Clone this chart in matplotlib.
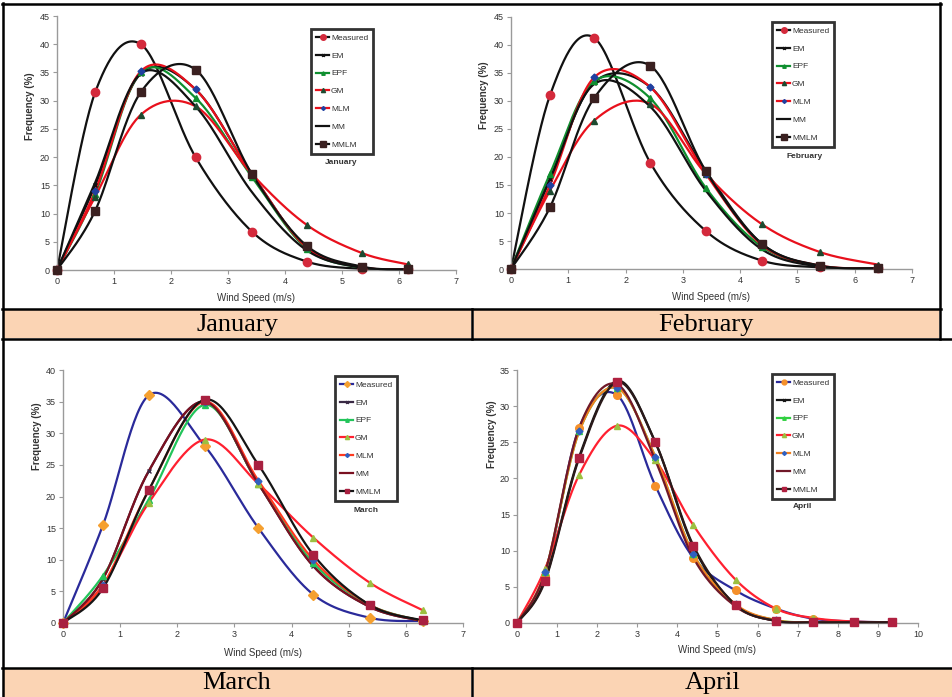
import numpy as np
import matplotlib
matplotlib.use('Agg')
import matplotlib.pyplot as plt
from matplotlib.patches import Rectangle
from matplotlib.lines import Line2D

series_names = ['Measured', 'EM', 'EPF', 'GM', 'MLM', 'MM', 'MMLM']

# ---------------- January ----------------
jan_speed = [0, 0.67, 1.47, 2.43, 3.42, 4.38, 5.35, 6.15]
jan_measured = [0, 31.5, 40.0, 20.0, 6.8, 1.5, 0.2, 0.1]
jan_em = [0, 15.0, 34.8, 32.0, 17.0, 4.0, 0.5, 0.1]
jan_epf = [0, 13.5, 35.0, 30.5, 16.5, 3.8, 0.4, 0.1]
jan_gm = [0, 13.0, 27.5, 29.0, 17.0, 8.0, 3.0, 1.0]
jan_mlm = [0, 14.0, 35.2, 32.0, 17.0, 4.0, 0.5, 0.1]
jan_mm = [0, 15.5, 34.8, 29.0, 13.8, 3.5, 0.4, 0.1]
jan_mmlm = [0, 10.5, 31.5, 35.5, 17.0, 4.3, 0.6, 0.1]

# ---------------- February ----------------
feb_speed = [0, 0.68, 1.45, 2.43, 3.4, 4.38, 5.4, 6.4]
feb_measured = [0, 31.0, 41.3, 19.0, 6.8, 1.5, 0.3, 0.1]
feb_em = [0, 16.0, 33.3, 32.5, 17.5, 4.5, 0.5, 0.1]
feb_epf = [0, 17.0, 33.5, 30.5, 14.5, 4.0, 0.5, 0.1]
feb_gm = [0, 14.0, 26.5, 29.5, 17.0, 8.0, 3.0, 0.8]
feb_mlm = [0, 15.0, 34.2, 32.5, 17.0, 4.3, 0.6, 0.1]
feb_mm = [0, 16.0, 33.0, 29.0, 14.0, 3.5, 0.4, 0.1]
feb_mmlm = [0, 11.0, 30.5, 36.3, 17.5, 4.5, 0.6, 0.1]

# ---------------- March ----------------
mar_speed = [0, 0.7, 1.5, 2.48, 3.42, 4.38, 5.38, 6.3]
mar_measured = [0, 15.5, 36.0, 28.0, 15.0, 4.5, 0.8, 0.3]
mar_em = [0, 7.0, 24.0, 35.0, 22.0, 9.0, 2.5, 0.3]
mar_epf = [0, 7.5, 19.5, 34.5, 22.0, 9.5, 2.8, 0.3]
mar_gm = [0, 6.0, 19.0, 29.0, 22.0, 13.5, 6.3, 2.0]
mar_mlm = [0, 6.0, 21.0, 35.0, 22.5, 10.0, 2.8, 0.3]
mar_mm = [0, 7.0, 24.0, 35.0, 22.0, 9.0, 2.5, 0.3]
mar_mmlm = [0, 5.5, 21.0, 35.3, 25.0, 10.8, 2.8, 0.4]

# ---------------- April ----------------
apr_speed = [0, 0.7, 1.55, 2.5, 3.45, 4.4, 5.45, 6.45, 7.38, 8.4, 9.35]
apr_measured = [0, 6.5, 27.0, 31.5, 19.0, 9.0, 4.5, 2.0, 0.6, 0.2, 0.1]
apr_em = [0, 6.0, 23.0, 33.5, 25.0, 10.5, 2.5, 0.3, 0.1, 0.1, 0.1]
apr_epf = [0, 7.0, 26.5, 32.5, 23.0, 9.5, 2.5, 0.4, 0.1, 0.1, 0.1]
apr_gm = [0, 7.5, 20.5, 27.3, 22.5, 13.5, 6.0, 2.0, 0.7, 0.2, 0.1]
apr_mlm = [0, 7.0, 26.5, 32.5, 23.0, 9.5, 2.6, 0.4, 0.1, 0.1, 0.1]
apr_mm = [0, 7.0, 27.0, 33.0, 22.5, 9.0, 2.3, 0.3, 0.1, 0.1, 0.1]
apr_mmlm = [0, 5.8, 22.8, 33.3, 25.0, 10.7, 2.5, 0.3, 0.1, 0.1, 0.1]

month_labels = ['January', 'February', 'March', 'April']

W, H = 953, 697


def fx(px):
    return px / W


def fy(py):
    return 1 - py / H


def smooth(x, y, n=30):
    P = np.column_stack([np.asarray(x, float), np.asarray(y, float)])
    xs, ys = [], []
    m = len(P)
    for i in range(m - 1):
        p0 = P[i - 1] if i > 0 else P[i]
        p1 = P[i]
        p2 = P[i + 1]
        p3 = P[i + 2] if i + 2 < m else P[i + 1]
        c1 = p1 + (p2 - p0) / 6.0
        c2 = p2 - (p3 - p1) / 6.0
        t = np.linspace(0, 1, n, endpoint=(i == m - 2))[:, None]
        B = ((1 - t) ** 3) * p1 + 3 * ((1 - t) ** 2) * t * c1 + 3 * (1 - t) * t ** 2 * c2 + t ** 3 * p2
        xs.append(B[:, 0])
        ys.append(B[:, 1])
    return np.concatenate(xs), np.concatenate(ys)


# style: (line color, marker, marker face, marker size)
style_jf = [
    ('#111111', 'o', '#d42a3c', 6),
    ('#111111', 'x', '#111111', 3.5),
    ('#0f8f2f', '^', '#0f8f2f', 4.5),
    ('#e8101c', '^', '#1d4a30', 5),
    ('#e8101c', 'D', '#2040a0', 3.5),
    ('#111111', None, None, 0),
    ('#111111', 's', '#3a2020', 6),
]
style_ma = [
    ('#2a2a9a', 'D', '#f5a030', 5),
    ('#3a2a45', 'x', '#3a2a45', 3.5),
    ('#22c45a', '^', '#22c45a', 4.5),
    ('#ff2030', '^', '#9cc040', 5),
    ('#ff3a20', 'D', '#3060c0', 3.5),
    ('#7a1020', None, None, 0),
    ('#151515', 's', '#a82040', 5.5),
]
style_ap = [
    ('#2a2a9a', 'o', '#f5902a', 5.5),
    ('#151515', 'x', '#151515', 3.5),
    ('#30d040', '^', '#30d040', 4.5),
    ('#ff2030', '^', '#9cc040', 5),
    ('#f08020', 'D', '#3060c0', 3.5),
    ('#701828', None, None, 0),
    ('#2a1a1a', 's', '#b02040', 5.5),
]

panels = [
    dict(speed=jan_speed, data=[jan_measured, jan_em, jan_epf, jan_gm, jan_mlm, jan_mm, jan_mmlm],
         style=style_jf, ax=(57, 456, 16, 270), xmax=7, ymax=45, ystep=5,
         ylab=(-0.055, 0.646), xlab=-0.09, leg=(311, 29),
         mlabel=(341, 163), month='January'),
    dict(speed=feb_speed, data=[feb_measured, feb_em, feb_epf, feb_gm, feb_mlm, feb_mm, feb_mmlm],
         style=style_jf, ax=(511, 912, 17, 269), xmax=7, ymax=45, ystep=5,
         ylab=(-0.055, 0.69), xlab=-0.09, leg=(772, 22),
         mlabel=(805, 157), month='February'),
    dict(speed=mar_speed, data=[mar_measured, mar_em, mar_epf, mar_gm, mar_mlm, mar_mm, mar_mmlm],
         style=style_ma, ax=(63, 463, 370, 623), xmax=7, ymax=40, ystep=5,
         ylab=(-0.0525, 0.74), xlab=-0.10, leg=(335, 376),
         mlabel=(366, 511), month='March'),
    dict(speed=apr_speed, data=[apr_measured, apr_em, apr_epf, apr_gm, apr_mlm, apr_mm, apr_mmlm],
         style=style_ap, ax=(517, 918, 370, 623), xmax=10, ymax=35, ystep=5,
         ylab=(-0.05, 0.747), xlab=-0.087, leg=(772, 374),
         mlabel=(802, 506), month='April'),
]

plt.rcParams['font.family'] = ['Liberation Sans', 'DejaVu Sans']

fig = plt.figure(figsize=(W / 100, H / 100), dpi=100)
fig.patch.set_facecolor('white')

# ---- table cells (label rows) ----
peach = '#fbd4b4'
for (x0, x1, y0, y1) in [(4, 471, 310, 338), (474, 939, 310, 338), (4, 471, 669, 697), (474, 953, 669, 697)]:
    fig.add_artist(Rectangle((fx(x0), fy(y1)), fx(x1) - fx(x0), fy(y0) - fy(y1),
                             transform=fig.transFigure, facecolor=peach, edgecolor='none', zorder=0))

for (x0, y0, x1, y1) in [
    (2, 4, 941, 4), (2, 309, 941, 309), (2, 339, 953, 339), (2, 668, 953, 668),
    (3, 3, 3, 697), (940, 3, 940, 339), (472, 309, 472, 339), (472, 668, 472, 697),
]:
    fig.add_artist(Line2D([fx(x0), fx(x1)], [fy(y0), fy(y1)], transform=fig.transFigure,
                          color='black', lw=1.8, zorder=5))

label_pos = [(237, 325), (706, 325), (237, 683), (713, 683)]
for (px, py), lab in zip(label_pos, month_labels):
    fig.text(fx(px), fy(py), lab, ha='center', va='center', fontsize=19,
             family='Liberation Serif', color='black')

# ---- charts ----
for p in panels:
    x0, x1, yt, yb = p['ax']
    ax = fig.add_axes([fx(x0), fy(yb), fx(x1) - fx(x0), fy(yt) - fy(yb)])
    ax.set_facecolor('none')
    handles = []
    for k, (name, vals) in enumerate(zip(series_names, p['data'])):
        lc, mk, mfc, ms = p['style'][k]
        sx, sy = smooth(p['speed'], vals)
        ax.plot(sx, sy, color=lc, lw=1.6, zorder=2 + k * 0.1, clip_on=False)
        if mk is not None:
            ax.plot(p['speed'], vals, ls='none', marker=mk, ms=ms, mfc=mfc,
                    mec=mfc if mk != 'x' else lc, mew=1.0, zorder=4 + k * 0.1, clip_on=False)
        handles.append(Line2D([], [], color=lc, lw=1.6, marker=mk, ms=max(ms - 2, 2) if mk else 0,
                              mfc=mfc, mec=mfc if mk != 'x' else lc))
    ax.set_xlim(0, p['xmax'])
    ax.set_ylim(0, p['ymax'])
    ax.set_xticks(range(0, p['xmax'] + 1))
    ax.set_yticks(range(0, p['ymax'] + 1, p['ystep']))
    for s in ['top', 'right']:
        ax.spines[s].set_visible(False)
    for s in ['left', 'bottom']:
        ax.spines[s].set_color('#9a9a9a')
        ax.spines[s].set_linewidth(1.0)
    ax.tick_params(direction='out', length=3, width=0.8, color='#9a9a9a',
                   labelsize=6.5, labelcolor='#333333', pad=2)
    ax.set_ylabel('Frequency (%)', fontsize=7, fontweight='bold', color='#333333')
    ax.yaxis.set_label_coords(*p['ylab'])
    ax.set_xlabel('Wind Speed (m/s)', fontsize=7, color='#333333')
    ax.xaxis.set_label_coords(0.5, p['xlab'])

    lx, ly = p['leg']
    leg = fig.legend(handles, series_names, loc='upper left', bbox_to_anchor=(fx(lx), fy(ly)),
                     bbox_transform=fig.transFigure, fontsize=6, frameon=True, fancybox=False,
                     handlelength=1.6, handletextpad=0.2, labelspacing=1.2, borderpad=0.6,
                     borderaxespad=0)
    leg.get_frame().set_edgecolor('black')
    leg.get_frame().set_linewidth(2)
    for t in leg.get_texts():
        t.set_color('#333333')
    mx, my = p['mlabel']
    fig.text(fx(mx), fy(my), p['month'], ha='center', va='center', fontsize=6,
             fontweight='bold', color='#333333')

fig.savefig('out.png', dpi=100, facecolor='white')
